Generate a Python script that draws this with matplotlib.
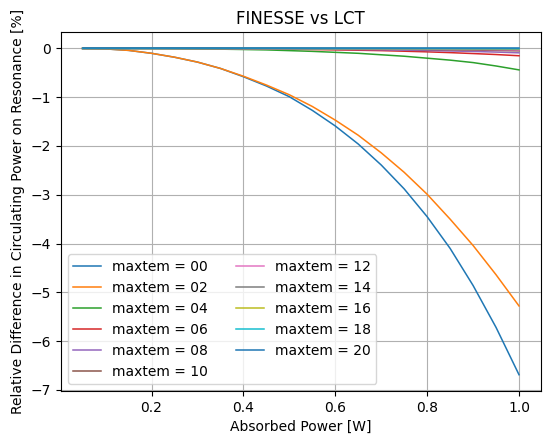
import matplotlib
matplotlib.use("Agg")
import matplotlib.pyplot as plt

# ─── DATA ─────────────────────────────────────────────────────────────────────
absorbed_power = [0.05, 0.10, 0.15, 0.20, 0.25, 0.30, 0.35, 0.40, 0.45, 0.50,
                  0.55, 0.60, 0.65, 0.70, 0.75, 0.80, 0.85, 0.90, 0.95, 1.00]

maxtem_labels = ["00", "02", "04", "06", "08", "10", "12", "14", "16", "18", "20"]

diff_00 = [0.0, -0.01, -0.04, -0.10, -0.18, -0.28, -0.41, -0.58, -0.77, -0.99,
           -1.27, -1.59, -1.96, -2.39, -2.88, -3.45, -4.10, -4.86, -5.72, -6.69]
diff_02 = [0.0, -0.01, -0.04, -0.10, -0.18, -0.28, -0.41, -0.57, -0.75, -0.95,
           -1.19, -1.47, -1.78, -2.14, -2.54, -2.99, -3.50, -4.04, -4.64, -5.28]
diff_04 = [0.0, 0.0, 0.0, -0.002, -0.005, -0.01, -0.015, -0.022, -0.03, -0.045,
           -0.06, -0.08, -0.10, -0.13, -0.16, -0.20, -0.24, -0.29, -0.36, -0.44]
diff_06 = [0.0, 0.0, 0.0, 0.0, -0.002, -0.003, -0.005, -0.008, -0.011, -0.015,
           -0.022, -0.03, -0.037, -0.045, -0.057, -0.07, -0.086, -0.105, -0.125, -0.15]
diff_08 = [0.0, 0.0, 0.0, 0.0, -0.001, -0.002, -0.003, -0.005, -0.007, -0.01,
           -0.014, -0.018, -0.023, -0.028, -0.035, -0.043, -0.052, -0.062, -0.075, -0.09]
diff_10 = [0.0, 0.0, 0.0, 0.0, 0.0, -0.001, -0.002, -0.003, -0.004, -0.005,
           -0.007, -0.01, -0.012, -0.015, -0.019, -0.023, -0.028, -0.034, -0.041, -0.05]
diff_12 = [0.0, 0.0, 0.0, 0.0, 0.0, 0.0, -0.001, -0.002, -0.002, -0.003,
           -0.004, -0.006, -0.007, -0.009, -0.011, -0.014, -0.017, -0.02, -0.025, -0.03]
diff_14 = [0.0, 0.0, 0.0, 0.0, 0.0, 0.0, 0.0, -0.001, -0.001, -0.002,
           -0.002, -0.003, -0.004, -0.005, -0.006, -0.007, -0.008, -0.01, -0.012, -0.015]
diff_16 = [0.0, 0.0, 0.0, 0.0, 0.0, 0.0, 0.0, 0.0, -0.001, -0.001,
           -0.001, -0.002, -0.002, -0.002, -0.003, -0.004, -0.004, -0.005, -0.006, -0.008]
diff_18 = [0.0, 0.0, 0.0, 0.0, 0.0, 0.0, 0.0, 0.0, 0.0, 0.0,
           -0.001, -0.001, -0.001, -0.001, -0.002, -0.002, -0.002, -0.003, -0.003, -0.004]
diff_20 = [0.0] * 20

all_diffs = [diff_00, diff_02, diff_04, diff_06, diff_08, diff_10,
             diff_12, diff_14, diff_16, diff_18, diff_20]

# ─── PLOT ─────────────────────────────────────────────────────────────────────
fig, ax = plt.subplots(figsize=(5.43, 4.34), dpi=100)

for lab, d in zip(maxtem_labels, all_diffs):
    ax.plot(absorbed_power, d, linewidth=1.1, label=f"maxtem = {lab}")

ax.set_title("FINESSE vs LCT")
ax.set_xlabel("Absorbed Power [W]")
ax.set_ylabel("Relative Difference in Circulating Power on Resonance [%]")
ax.grid(True)
ax.legend(loc="lower left", ncol=2)

fig.subplots_adjust(left=0.112, right=0.996, top=0.926, bottom=0.099)
fig.savefig("out.png", dpi=100)
